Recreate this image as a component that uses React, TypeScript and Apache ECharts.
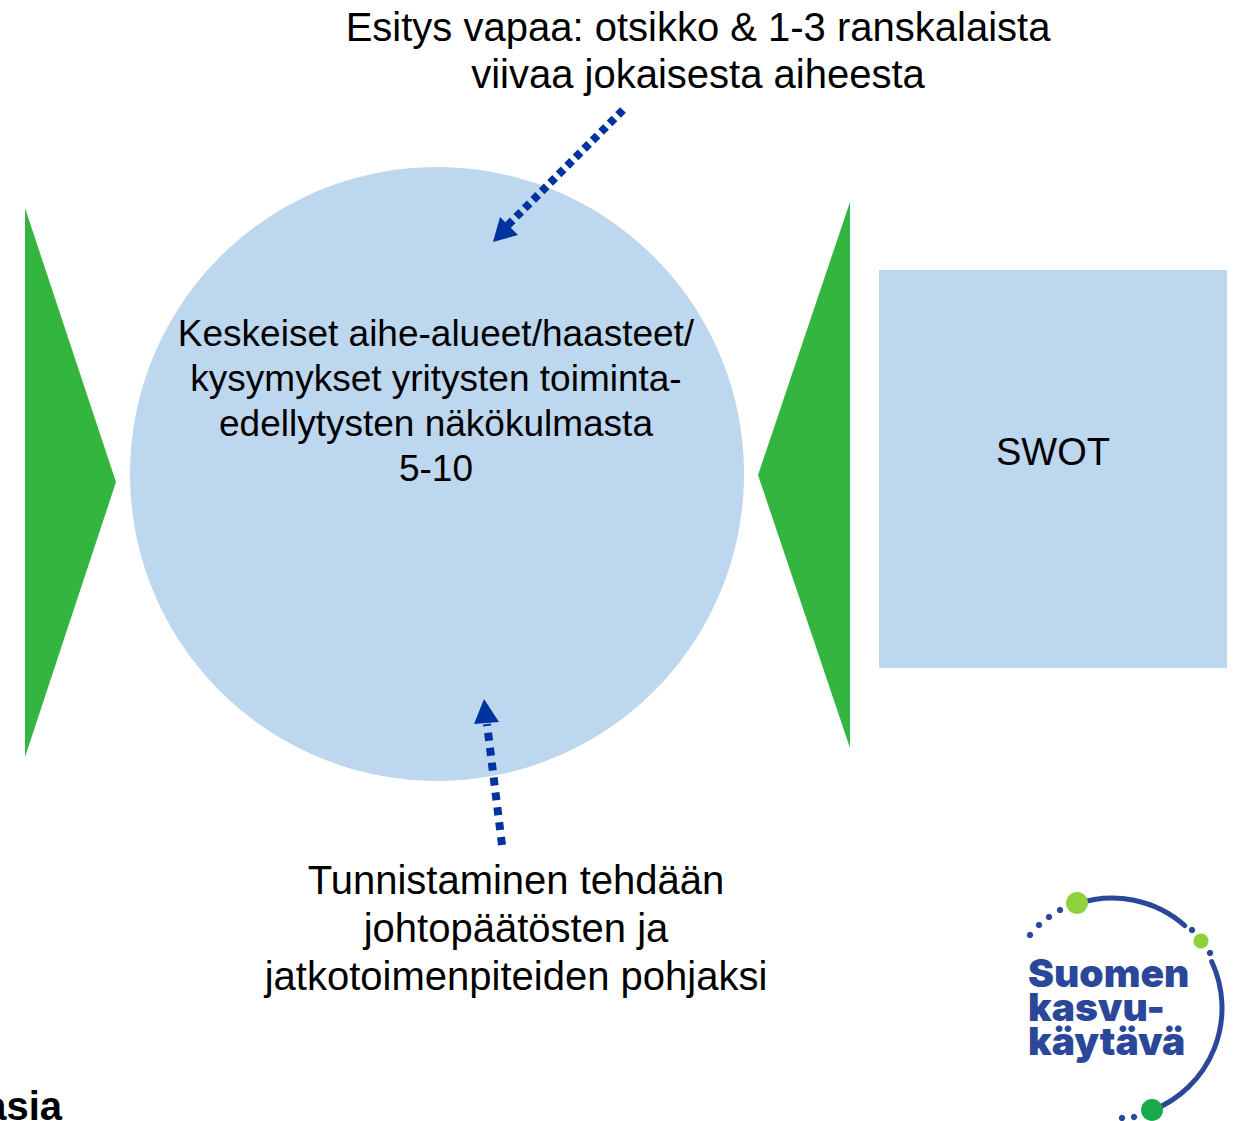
import React, { useEffect, useRef } from "react";
import * as echarts from "echarts";

const topLines = ["Esitys vapaa: otsikko & 1-3 ranskalaista", "viivaa jokaisesta aiheesta"];
const circleLines = ["Keskeiset aihe-alueet/haasteet/", "kysymykset yritysten toiminta-", "edellytysten näkökulmasta", "5-10"];
const bottomLines = ["Tunnistaminen tehdään", "johtopäätösten ja", "jatkotoimenpiteiden pohjaksi"];
const boxLabel = ["SWOT"];
const cornerLabel = ["asia"];
const logoLines = ["Suomen", "kasvu-", "käytävä"];

const BLUE_FILL = "#BDD7EE";
const GREEN = "#33B540";
const ARROW = "#0033A0";
const LOGO_BLUE = "#2A4799";
const FONT = "'Liberation Sans', Arial, sans-serif";

export default function App() {
  const ref = useRef<HTMLDivElement>(null);
  useEffect(() => {
    document.body.style.margin = "0";
    const chart = echarts.init(ref.current!, null, { renderer: "svg" });
    const els: any[] = [];
    els.push({ type: "circle", shape: { cx: 437, cy: 474, r: 307 }, style: { fill: BLUE_FILL } });
    els.push({ type: "polygon", shape: { points: [[25, 208], [116, 482], [25, 757]] }, style: { fill: GREEN } });
    els.push({ type: "polygon", shape: { points: [[850, 202], [758, 475], [850, 748]] }, style: { fill: GREEN } });
    els.push({ type: "rect", shape: { x: 879, y: 270, width: 348, height: 398 }, style: { fill: BLUE_FILL } });
    els.push({ type: "text", x: 698, y: 50, style: { text: topLines.join("\n"), fill: "#000", font: `40px ${FONT}`, lineHeight: 47, textAlign: "center", textVerticalAlign: "middle" } });
    els.push({ type: "text", x: 436, y: 401, style: { text: circleLines.join("\n"), fill: "#000", font: `37px ${FONT}`, lineHeight: 45, textAlign: "center", textVerticalAlign: "middle" } });
    els.push({ type: "text", x: 516, y: 928, style: { text: bottomLines.join("\n"), fill: "#000", font: `40px ${FONT}`, lineHeight: 48, textAlign: "center", textVerticalAlign: "middle" } });
    els.push({ type: "text", x: 1053, y: 452, style: { text: boxLabel[0], fill: "#000", font: `38px ${FONT}`, textAlign: "center", textVerticalAlign: "middle" } });
    els.push({ type: "text", x: 62, y: 1106, style: { text: cornerLabel[0], fill: "#000", font: `bold 40px ${FONT}`, textAlign: "right", textVerticalAlign: "middle" } });
    // arrows
    els.push({ type: "line", shape: { x1: 623, y1: 110, x2: 506, y2: 227 }, style: { stroke: ARROW, lineWidth: 8, lineDash: [7, 5] } });
    els.push({ type: "polygon", shape: { points: [[493, 242], [500, 217], [518, 235]] }, style: { fill: ARROW } });
    els.push({ type: "line", shape: { x1: 502, y1: 845, x2: 487, y2: 724 }, style: { stroke: ARROW, lineWidth: 8, lineDash: [8, 7] } });
    els.push({ type: "polygon", shape: { points: [[484, 699], [474, 724], [499, 722]] }, style: { fill: ARROW } });
    // logo
    const cx = 1112, cy = 1008, r = 110;
    const ang = (x: number, y: number) => Math.atan2(y - cy, x - cx);
    els.push({ type: "arc", shape: { cx, cy, r, startAngle: ang(1077, 903), endAngle: ang(1187, 923), clockwise: true }, style: { stroke: LOGO_BLUE, lineWidth: 5, fill: "none", lineCap: "round" } });
    els.push({ type: "arc", shape: { cx, cy, r, startAngle: ang(1215, 960), endAngle: ang(1152, 1110), clockwise: true }, style: { stroke: LOGO_BLUE, lineWidth: 5, fill: "none", lineCap: "round" } });
    const smallDots = [[1060, 910], [1049, 917], [1039, 925], [1030, 935], [1192, 930], [1210, 953], [1134, 1117], [1122, 1118]];
    smallDots.forEach(([x, y]) => els.push({ type: "circle", shape: { cx: x, cy: y, r: 3.2 }, style: { fill: LOGO_BLUE } }));
    els.push({ type: "circle", shape: { cx: 1077, cy: 903, r: 11 }, style: { fill: "#8DD13C" } });
    els.push({ type: "circle", shape: { cx: 1201, cy: 941, r: 7.5 }, style: { fill: "#8DD13C" } });
    els.push({ type: "circle", shape: { cx: 1152, cy: 1110, r: 11 }, style: { fill: "#18A94C" } });
    els.push({ type: "text", x: 1028, y: 1006, style: { text: logoLines.join("\n"), fill: LOGO_BLUE, font: `900 39px Inter, 'Open Sans', sans-serif`, lineHeight: 34, textAlign: "left", textVerticalAlign: "middle" } });
    chart.setOption({ animation: false, graphic: { elements: els } });
    return () => chart.dispose();
  }, []);
  return <div ref={ref} style={{ width: 1238, height: 1121, background: "#fff" }} />;
}
